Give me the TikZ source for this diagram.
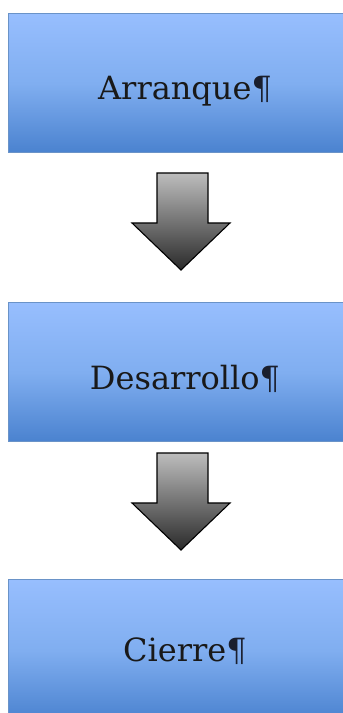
\documentclass[tikz,border=0pt]{standalone}
\usepackage{fontspec}
\setmainfont{DejaVu Serif}
\definecolor{boxtop}{HTML}{97BEFE}
\definecolor{boxmid}{HTML}{80AEF0}
\definecolor{boxbot}{HTML}{4A82CF}
\definecolor{boxline}{HTML}{6A93C8}
\definecolor{arrtop}{HTML}{BDBDBD}
\definecolor{arrbot}{HTML}{2A2A2A}
\definecolor{pilc}{HTML}{1A1F2E}
\tikzset{
  stagebox/.style={draw=boxline, line width=1pt, top color=boxtop, bottom color=boxbot, middle color=boxmid},
  stagetext/.style={anchor=base, font=\fontsize{32}{32}\selectfont, inner sep=0pt, text=black!90},
  downarrow/.style={draw=black, line width=1.1pt, line join=miter, top color=arrtop, bottom color=arrbot}
}
\newcommand{\pilcrowmark}{\textcolor{pilc}{¶}}
\begin{document}
\begin{tikzpicture}[x=1pt,y=1pt]
\useasboundingbox (0,0) rectangle (343,713);
\begin{scope}
\clip (0,0) rectangle (343,713);
% boxes
\path[stagebox] (8,560) rectangle (354,699);
\node[stagetext] (t1) at (185,613) {Arranque\pilcrowmark};
\path[stagebox] (8,271) rectangle (354,410);
\node[stagetext] (t2) at (185,323) {Desarrollo\pilcrowmark};
\path[stagebox] (8,-8) rectangle (354,133);
\node[stagetext] (t3) at (185,51) {Cierre\pilcrowmark};
% arrows
\path[downarrow] (157,540) -- (208,540) -- (208,490) -- (230,490) -- (181,443) -- (132,490) -- (157,490) -- cycle;
\path[downarrow] (157,260) -- (208,260) -- (208,210) -- (230,210) -- (181,163) -- (132,210) -- (157,210) -- cycle;
\end{scope}
\end{tikzpicture}
\end{document}
